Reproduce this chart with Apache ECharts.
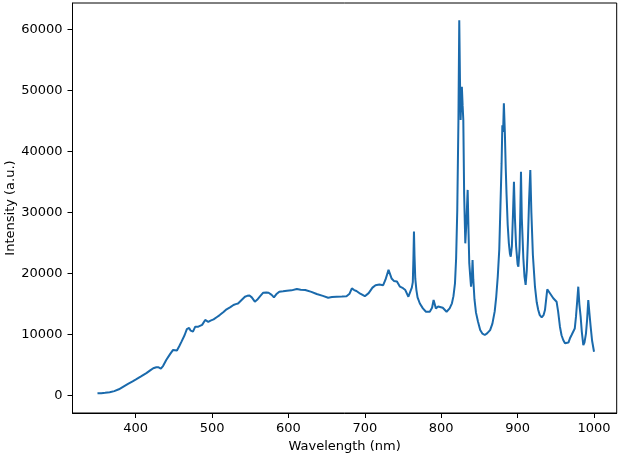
<!DOCTYPE html>
<html>
<head>
<meta charset="utf-8">
<script src="https://cdn.jsdelivr.net/npm/echarts@6/dist/echarts.min.js"></script>
<style>
html,body{margin:0;padding:0;background:#fff;}
#c{width:624px;height:453px;}
</style>
</head>
<body>
<div id="c"></div>
<script>
const wavelengths = [350,355,360,366,372,378,384,390,396,401,407,414,419,423,427,430,433,436,440,445,449,454,457,460,464,467,470,472,475,478,480,482,484,487,491,493,495,498,502,506,510,515,519,524,528,531,534,538,543,546,549,552,556,559,563,567,571,574,578,581,584,588,593,598,604,611,616,622,630,637,645,652,657,663,670,676,680,683,686,689,694,700,705,710,714,719,724,727,731,735,738,742,746,750,753,757,760,761.5,762.8,763.6,764.3,765,766,767.5,769,772,776,780,785,788,790,793,796,798,802,807,811,814,816,818,819.5,821,822.5,823.6,824.5,825.4,826.2,827,828,828.9,830,831.5,833,834.6,835.8,836.7,838,839,840,841,842,843.5,845.5,848,851,854,857,860,864,867,870,872,874,876,877.5,879,880,881,882,883.3,884.5,885.5,887,888.5,890,891,892.5,894,895.2,896.5,898,900,901,902.5,903.5,904.4,905.5,907.5,909,910.5,912,913.5,915,916.6,918,920,922.7,925,927,929,931.5,934,935.8,938.8,942.3,946.7,951,953,955.4,957.5,959.7,962,964.2,966.5,968.5,970.5,972.8,974.8,976.4,978,979.4,980.8,982.5,984,986,987.5,989.5,991,992.5,994,995.6,997.5,1000];
const intensity = [400,420,470,550,750,1050,1500,1950,2350,2700,3150,3700,4150,4500,4650,4650,4450,4900,5850,6800,7500,7400,8100,8850,9900,10900,11100,10650,10500,11300,11600,11300,11000,11600,12400,12200,12100,12300,12500,12850,13200,13700,14150,14500,14850,15000,15100,15600,16200,16350,16400,16100,15400,15700,16300,16870,16900,16850,16500,16100,16600,17030,17100,17200,17250,17470,17350,17300,17000,16650,16350,16050,16150,16200,16250,16300,16700,17580,17300,17150,16700,16300,16800,17700,18100,18200,18100,19000,20600,19200,18800,18700,17850,17600,17300,16200,17200,17700,18600,22500,26900,23000,19200,17300,16100,15100,14300,13750,13750,14400,15670,14300,14600,14850,14400,13750,14300,15130,16300,18400,22500,30400,45000,61500,52000,45150,48500,50600,47500,45150,33000,24950,28500,33700,26500,21700,19500,17850,19000,22200,19000,15800,13600,12200,10750,10150,9940,10200,10750,11800,13800,16200,19500,24000,31000,38000,44300,43200,47880,43000,37000,33000,28000,25000,23200,22760,24500,30000,35040,29000,24500,21500,21120,24000,30000,36680,29000,22500,19500,18130,20500,25500,32000,36960,30000,23000,17850,15300,14030,13200,12840,13200,14030,17420,16770,15950,15390,13800,11300,9900,9120,8600,8420,8700,9400,9900,10220,11000,12940,15500,17850,15000,12940,10500,8300,8700,10220,12500,15670,13500,11300,9000,7200];
const xTicks = [400,500,600,700,800,900,1000];
const yTicks = [0,10000,20000,30000,40000,50000,60000];

const chart = echarts.init(document.getElementById('c'), null, {renderer:'canvas'});
const font = 'DejaVu Sans';
const axisCommon = {
  axisLine:{show:true,onZero:false,lineStyle:{color:'#000',width:1}},
  axisTick:{show:true,length:5,lineStyle:{color:'#000',width:1}},
  splitLine:{show:false},
  nameMoveOverlap:false,
  nameTextStyle:{fontFamily:font,fontSize:13,color:'#000'}
};
chart.setOption({
  animation:false,
  backgroundColor:'#fff',
  grid:{left:72.5,right:7.3,top:3,bottom:40,show:true,borderColor:'#000',borderWidth:1,containLabel:false,outerBoundsMode:'none'},
  xAxis:Object.assign({}, axisCommon, {
    type:'value', min:317.3, max:1029.7,
    name:'Wavelength (nm)', nameLocation:'middle', nameGap:27,
    axisTick:Object.assign({}, axisCommon.axisTick, {customValues:xTicks}),
    axisLabel:{customValues:xTicks, formatter:v=>String(v), fontFamily:font, fontSize:13, color:'#000', margin:9}
  }),
  yAxis:Object.assign({}, axisCommon, {
    type:'value', min:-2833, max:64307,
    name:'Intensity (a.u.)', nameLocation:'middle', nameGap:55, nameRotate:90,
    axisTick:Object.assign({}, axisCommon.axisTick, {customValues:yTicks}),
    axisLabel:{customValues:yTicks, formatter:v=>String(v), fontFamily:font, fontSize:13, color:'#000', margin:10}
  }),
  series:[{
    type:'line',
    data:wavelengths.map((w,i)=>[w,intensity[i]]),
    showSymbol:false,
    lineStyle:{color:'#1a6aac',width:2},
    smooth:false
  }]
});
</script>
</body>
</html>
